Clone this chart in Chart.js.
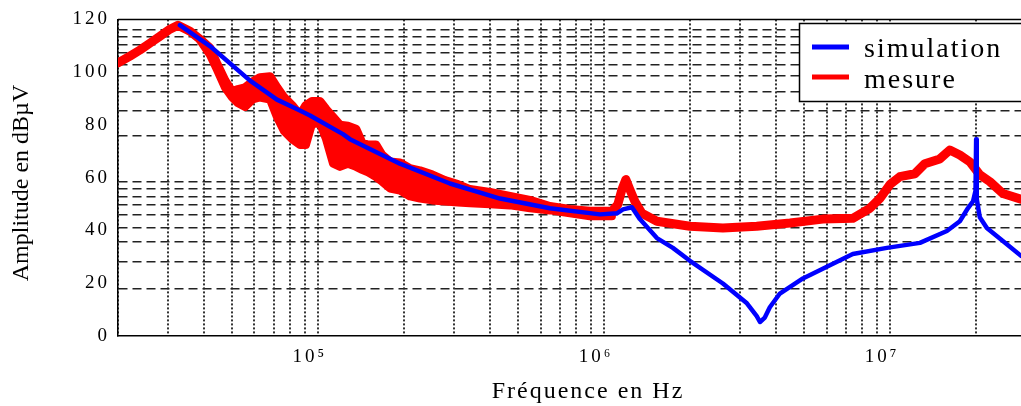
<!DOCTYPE html>
<html>
<head>
<meta charset="utf-8">
<script src="https://cdn.jsdelivr.net/npm/chart.js@4.4.0/dist/chart.umd.min.js"></script>
<style>
  html, body { margin: 0; padding: 0; background: #ffffff; }
  canvas { display: block; }
</style>
</head>
<body>
<canvas id="c" width="1021" height="406"></canvas>
<script>
// ---------- DATA ----------
const simFreq = [3.29e4, 4.19e4, 5.79e4, 7.19e4, 8.65e4, 9.38e4, 1.223e5, 1.294e5, 1.935e5, 2.893e5,
  4.33e5, 6.47e5, 9.68e5, 1.11e6, 1.165e6, 1.252e6, 1.335e6, 1.531e6, 1.741e6, 1.997e6,
  2.604e6, 3.16e6, 3.42e6, 3.51e6, 3.65e6, 3.80e6, 4.12e6, 4.96e6, 5.82e6, 7.41e6,
  9.75e6, 1.272e7, 1.58e7, 1.754e7, 1.871e7, 1.95e7, 1.99e7, 2.0e7, 2.01e7, 2.06e7,
  2.18e7, 2.48e7, 2.87e7];
const simVal = [117.8, 109.9, 96.8, 89.6, 85.5, 83.6, 76.5, 74.6, 65.3, 57.8,
  52.1, 48.4, 46.1, 46.5, 48.0, 48.8, 44.3, 37.1, 33.4, 28.5,
  19.9, 12.4, 7.5, 5.3, 7.0, 10.9, 16.1, 21.8, 25.5, 31.1,
  33.4, 35.3, 39.8, 43.5, 48.4, 51.0, 55.0, 74.6, 52.0, 45.0,
  40.9, 36.0, 30.4];

// measured curve (upper edge of the noisy band between 4e4 and 1e6)
const measFreq = [2.0e4, 2.203e4, 2.387e4, 2.588e4, 2.804e4, 3.039e4, 3.241e4, 3.57e4, 3.869e4, 4.194e4,
  4.437e4, 4.732e4, 5.006e4, 5.254e4, 5.558e4, 5.928e4, 6.272e4, 6.797e4, 7.192e4, 7.608e4,
  8.112e4, 8.654e4, 9.082e4, 9.530e4, 1.016e5, 1.067e5, 1.129e5, 1.194e5, 1.273e5, 1.358e5,
  1.425e5, 1.496e5, 1.595e5, 1.674e5, 1.786e5, 1.935e5, 2.097e5, 2.273e5, 2.504e5, 2.780e5,
  3.086e5, 3.399e5, 3.993e5, 4.691e5, 5.510e5, 6.471e5, 7.602e5, 8.929e5, 1.066e6, 1.118e6,
  1.155e6, 1.193e6, 1.232e6, 1.283e6, 1.357e6, 1.531e6, 1.997e6, 2.604e6, 3.42e6, 4.47e6,
  5.82e6, 7.41e6, 8.50e6, 9.21e6, 9.99e6, 1.082e7, 1.221e7, 1.323e7, 1.493e7, 1.618e7,
  1.754e7, 1.901e7, 2.06e7, 2.233e7, 2.48e7, 2.87e7];
const measVal = [103.5, 106.1, 108.4, 111.0, 113.6, 116.3, 117.8, 115.5, 112.5, 109.1,
  103.1, 96.8, 92.6, 93.4, 94.1, 96.4, 97.9, 98.3, 94.1, 90.4,
  87.4, 83.6, 87.4, 88.9, 88.9, 85.9, 82.9, 79.9, 79.5, 78.4,
  73.1, 72.4, 72.4, 68.6, 66.0, 65.6, 63.4, 62.6, 61.1, 58.9,
  57.4, 55.5, 54.4, 52.9, 51.4, 49.1, 48.0, 47.3, 47.3, 49.9,
  55.5, 59.3, 55.5, 51.0, 46.5, 43.5, 41.6, 40.9, 41.6, 42.8,
  44.3, 44.6, 48.4, 52.1, 57.4, 60.4, 61.5, 65.3, 67.1, 70.5,
  68.6, 66.0, 61.1, 58.5, 54.0, 51.8];

// lower edge of the noisy measured band (same frequencies as the upper edge)
const measLowFreq = [3.869e4, 4.194e4, 4.437e4, 4.732e4, 5.006e4, 5.254e4, 5.558e4, 5.928e4, 6.272e4, 6.797e4,
  7.192e4, 7.608e4, 8.112e4, 8.654e4, 9.082e4, 9.530e4, 1.016e5, 1.067e5, 1.129e5, 1.194e5,
  1.273e5, 1.358e5, 1.425e5, 1.496e5, 1.595e5, 1.674e5, 1.786e5, 1.935e5, 2.097e5, 2.273e5,
  2.504e5, 2.780e5, 3.086e5, 3.399e5, 3.993e5, 4.691e5, 5.510e5, 6.471e5, 7.602e5, 8.929e5, 1.066e6];
const measLowVal = [112.1, 106.5, 100.9, 94.1, 90.4, 88.2, 86.8, 89.7, 90.4, 89.6,
  82.9, 77.6, 74.6, 72.4, 72.4, 80.3, 80.6, 74.6, 65.3, 64.1,
  65.3, 64.1, 63.0, 62.0, 60.2, 58.5, 55.9, 55.1, 52.9, 52.1,
  51.4, 51.0, 50.6, 50.3, 49.9, 49.5, 48.4, 47.6, 46.5, 45.4, 45.4];

const xGridTicks = [2e4, 3e4, 4e4, 5e4, 6e4, 7e4, 8e4, 9e4, 1e5, 2e5, 3e5, 4e5, 5e5, 6e5, 7e5, 8e5, 9e5,
  1e6, 2e6, 3e6, 4e6, 5e6, 6e6, 7e6, 8e6, 9e6, 1e7, 2e7];
const xTickValues = [1e5, 1e6, 1e7];
const xTickLabels = ['10\u2075', '10\u2076', '10\u2077'];
const yTickLabels = [0, 20, 40, 60, 80, 100, 120];
const yGridLines = [18.0, 28.1, 35.6, 40.9, 45.8, 49.9, 52.9, 55.9, 58.5,
  75.8, 85.5, 92.6, 98.6, 102.8, 107.3, 110.3, 113.6, 115.9];

const seriesNames = ['simulation', 'mesure'];
const xTitle = 'Fréquence en Hz';
const yTitle = 'Amplitude en dBµV';

// ---------- CHART ----------
const FONT = "'Liberation Serif', 'Times New Roman', serif";
const BLUE = '#0000ff', RED = '#ff0000';

const toPts = (xs, ys) => xs.map((x, i) => ({ x: x, y: ys[i] }));

const decorPlugin = {
  id: 'decor',
  beforeDraw(chart) {
    chart.ctx.letterSpacing = '3px';
  },
  afterDraw(chart) {
    const ctx = chart.ctx;
    const a = chart.chartArea;
    ctx.save();
    ctx.strokeStyle = '#000';
    ctx.lineWidth = 1.5;
    ctx.setLineDash([]);
    ctx.beginPath();
    ctx.moveTo(a.left, a.top);
    ctx.lineTo(a.right, a.top);
    ctx.stroke();

    ctx.fillStyle = '#000';
    ctx.letterSpacing = '2px';
    ctx.font = '24px ' + FONT;
    ctx.textAlign = 'center';
    ctx.textBaseline = 'alphabetic';
    ctx.fillText(xTitle, 588, 398);

    ctx.letterSpacing = '0px';
    ctx.save();
    ctx.translate(28, 183);
    ctx.rotate(-Math.PI / 2);
    ctx.textAlign = 'center';
    ctx.fillText(yTitle, 0, 0);
    ctx.restore();

    ctx.fillStyle = '#fff';
    ctx.fillRect(799, 23, 240, 78);
    ctx.strokeStyle = '#000';
    ctx.lineWidth = 1.5;
    ctx.strokeRect(799.5, 23.5, 240, 78);
    const colors = [BLUE, RED];
    const lineY = [47, 77];
    const textY = [57, 88];
    ctx.font = '28px ' + FONT;
    ctx.letterSpacing = '2px';
    ctx.textAlign = 'left';
    for (let i = 0; i < seriesNames.length; i++) {
      ctx.strokeStyle = colors[i];
      ctx.lineWidth = 5;
      ctx.beginPath();
      ctx.moveTo(812, lineY[i]);
      ctx.lineTo(849, lineY[i]);
      ctx.stroke();
      ctx.fillStyle = '#000';
      ctx.fillText(seriesNames[i], 864, textY[i]);
    }
    ctx.restore();
  }
};

new Chart(document.getElementById('c'), {
  type: 'line',
  data: {
    datasets: [
      { label: seriesNames[0], data: toPts(simFreq, simVal), borderColor: BLUE, backgroundColor: BLUE,
        borderWidth: 4.5, pointRadius: 0, tension: 0, borderJoinStyle: 'round', borderCapStyle: 'round', fill: false },
      { label: seriesNames[1], data: toPts(measFreq, measVal), borderColor: RED, backgroundColor: RED,
        borderWidth: 9, pointRadius: 0, tension: 0, borderJoinStyle: 'round', borderCapStyle: 'round', fill: false },
      { label: seriesNames[1], data: toPts(measLowFreq, measLowVal), borderColor: RED, backgroundColor: RED,
        borderWidth: 8, pointRadius: 0, tension: 0, borderJoinStyle: 'round', borderCapStyle: 'round', fill: '-1' }
    ]
  },
  options: {
    responsive: false,
    devicePixelRatio: 1,
    animation: false,
    layout: { padding: { top: 16, right: 0, left: 0, bottom: 0 } },
    plugins: { legend: { display: false }, tooltip: { enabled: false } },
    scales: {
      x: {
        type: 'logarithmic',
        min: 2e4,
        max: 2.87e7,
        afterBuildTicks: (s) => { s.ticks = xGridTicks.map(v => ({ value: v })); },
        afterFit: (s) => { s.height = 70; },
        ticks: {
          autoSkip: false, maxRotation: 0, minRotation: 0, padding: 10, labelOffset: -8,
          color: '#000', font: { family: FONT, size: 19 },
          callback: (v) => { const i = xTickValues.indexOf(v); return i >= 0 ? xTickLabels[i] : ''; }
        },
        grid: { color: '#333', lineWidth: 2, drawTicks: false },
        border: { display: true, color: '#000', width: 1.5, dash: [2, 2] }
      },
      y: {
        type: 'linear',
        min: 0,
        max: 120,
        afterBuildTicks: (s) => {
          const all = yTickLabels.concat(yGridLines).sort((a, b) => a - b);
          s.ticks = all.map(v => ({ value: v }));
        },
        afterFit: (s) => { s.width = 118; },
        ticks: {
          autoSkip: false, padding: 8, color: '#000', font: { family: FONT, size: 19 },
          callback: (v) => yTickLabels.includes(v) ? String(v) : ''
        },
        grid: {
          drawTicks: false, lineWidth: 1.5,
          color: (c) => (c.tick && yTickLabels.includes(c.tick.value)) ? 'rgba(0,0,0,0)' : '#222'
        },
        border: { display: true, color: '#000', width: 1.5, dash: [9, 5] }
      }
    }
  },
  plugins: [decorPlugin]
});
</script>
</body>
</html>
